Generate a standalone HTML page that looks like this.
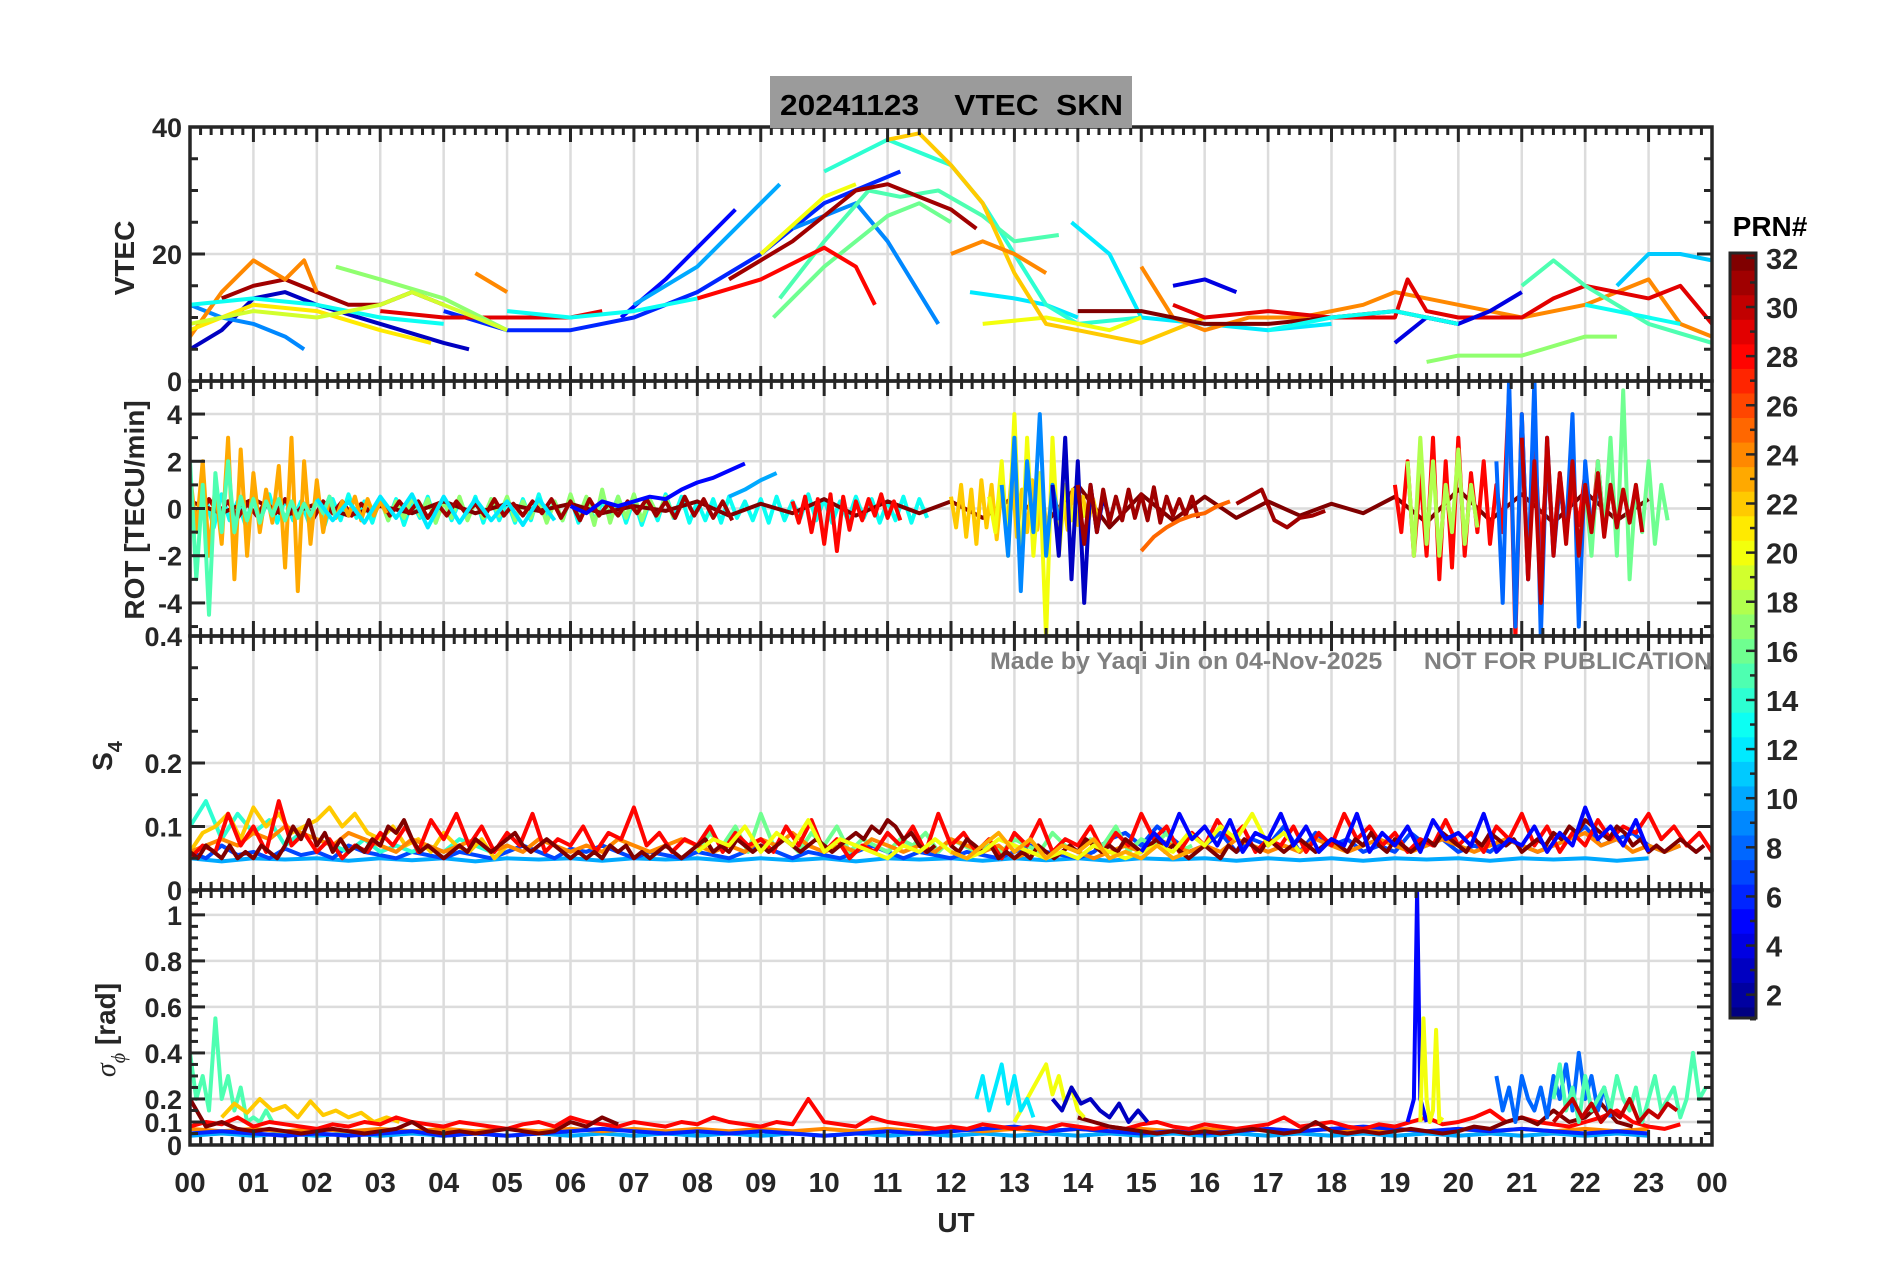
<!DOCTYPE html>
<html><head><meta charset="utf-8"><style>
html,body{margin:0;padding:0;background:#fff;}
svg{display:block;font-family:"Liberation Sans",sans-serif;}
</style></head><body>
<svg id="fig" width="1902" height="1272" viewBox="0 0 1902 1272" xmlns="http://www.w3.org/2000/svg">
<defs>
<clipPath id="c0"><rect x="190" y="127" width="1522" height="254"/></clipPath>
<clipPath id="c1"><rect x="190" y="381" width="1522" height="255"/></clipPath>
<clipPath id="c2"><rect x="190" y="636" width="1522" height="254"/></clipPath>
<clipPath id="c3"><rect x="190" y="890" width="1522" height="255"/></clipPath>
</defs>
<g id="grids"></g>
<g id="data"></g>
<g id="axes"></g>
<rect x="770" y="76" width="362" height="52" fill="#9b9b9b"/>
<text x="780" y="115" font-size="29" font-weight="bold" fill="#000" textLength="343" lengthAdjust="spacingAndGlyphs" xml:space="preserve">20241123    VTEC  SKN</text>
<text x="990" y="669" font-size="24" font-weight="bold" fill="#808080" textLength="722" lengthAdjust="spacingAndGlyphs" xml:space="preserve">Made by Yaqi Jin on 04-Nov-2025      NOT FOR PUBLICATION</text>
<text transform="translate(134,258) rotate(-90)" text-anchor="middle" font-size="28" font-weight="bold" fill="#262626">VTEC</text>
<text transform="translate(144,510) rotate(-90)" text-anchor="middle" font-size="28" font-weight="bold" fill="#262626">ROT [TECU/min]</text>
<text transform="translate(112,756) rotate(-90)" text-anchor="middle" font-size="28" font-weight="bold" fill="#262626">S<tspan font-size="20" dy="10">4</tspan></text>
<text transform="translate(115,1030) rotate(-90)" text-anchor="middle" font-size="28" font-weight="bold" fill="#262626"><tspan font-family="Liberation Serif" font-style="italic" font-weight="normal">σ</tspan><tspan font-family="Liberation Serif" font-style="italic" font-weight="normal" font-size="20" dy="10">ϕ</tspan><tspan dy="-10"> [rad]</tspan></text>
<text x="956" y="1232" text-anchor="middle" font-size="28" font-weight="bold" fill="#262626">UT</text>
<text x="1770" y="236" text-anchor="middle" font-size="28" font-weight="bold" fill="#000">PRN#</text>
<g id="cbar"></g>
</svg>
<script>
// ---------- data ----------
const hourLabels=["00","01","02","03","04","05","06","07","08","09","10","11","12","13","14","15","16","17","18","19","20","21","22","23","00"];
const vtecTicks=[0,20,40];
const rotTicks=[-4,-2,0,2,4];
const s4Ticks=[0,0.1,0.2,0.4];
const sigTicks=[0,0.1,0.2,0.4,0.6,0.8,1];
const prnLabels=[2,4,6,8,10,12,14,16,18,20,22,24,26,28,30,32];
// VTEC tracks: [prn, h,v, h,v, ...]
const vtecTracks=[
[3, 0,5, 0.5,8, 1,13, 1.5,14, 2,12, 3,9, 4,6, 4.4,5],
[5, 6.8,10, 7.5,16, 8.2,23, 8.6,27],
[6, 4,11, 5,8, 6,8, 7,10, 8,14, 9,20, 10,28, 11.2,33],
[10, 7,12, 8,18, 9,28, 9.3,31],
[9, 9.5,24, 10.5,28, 11,22, 11.8,9],
[9, 0,12, 0.5,10, 1,9, 1.5,7, 1.8,5],
[12, 12.3,14, 13,13, 13.5,12, 14,10],
[12, 13.9,25, 14.5,20, 15,10, 16,9, 17,8, 18,9],
[14, 10,33, 10.6,36, 11,38, 11.5,36, 12,34, 12.5,28, 13,20, 13.5,12, 14,9, 15,10],
[16, 9.2,10, 10,18, 11,26, 11.5,28, 12,25],
[15, 9.3,13, 10,22, 10.7,30, 11.2,29, 11.8,30, 12.5,26, 13,22, 13.7,23],
[20, 9,20, 10,29, 10.5,31],
[20, 12.5,9, 13.5,10, 14.5,8, 15,10],
[22, 11,38, 11.5,39, 12,34, 12.5,28, 13,17, 13.5,9, 14,8, 15,6, 16,10],
[28, 8,13, 9,16, 10,21, 10.5,18, 10.8,12],
[31, 0.5,13, 1,15, 1.5,16, 2,14, 2.5,12, 3,12, 3.5,14, 4,12],
[31, 8.5,16, 9.5,22, 10.5,30, 11,31, 12,27, 12.4,24],
[24, 0,7, 0.5,14, 1,19, 1.5,16, 1.8,19, 2,14],
[24, 4.5,17, 5,14],
[24, 12,20, 12.5,22, 13,20, 13.5,17],
[24, 15,18, 15.5,10, 16,8, 16.7,10, 17.5,10, 18.5,12, 19,14, 19.5,13, 20,12, 21,10, 22,12, 23,16, 23.5,9, 24,7],
[21, 0,8, 1,12, 2,11, 3,8, 3.8,6],
[29, 3,11, 4,10, 5,10, 6,10, 6.5,11],
[29, 15.5,12, 16,10, 17,11, 18,10, 19,10, 19.2,16, 19.5,11, 20,10, 21,10, 21.5,13, 22,15, 23,13, 23.5,15, 24,9],
[32, 14,11, 15,11, 16,9, 17,9, 18,10, 19,11, 20,9],
[17, 2.3,18, 3,16, 4,13, 5,8],
[17, 19.5,3, 20,4, 21,4, 22,7, 22.5,7],
[15, 21,15, 21.5,19, 22,15, 23,9, 24,6],
[11, 22.5,15, 23,20, 23.5,20, 24,19],
[4, 15.5,15, 16,16, 16.5,14],
[4, 19,6, 19.5,10, 20,9, 20.5,11, 21,14],
[13, 0,12, 1,13, 2,12, 3,10, 4,9],
[13, 5,11, 6,10, 7,11, 8,13],
[13, 17,8, 18,10, 19,11, 20,9],
[13, 22,12, 23,10, 23.5,9],
[19, 0,9, 1,11, 2,10, 3,12, 3.5,14, 4,12, 5,8]
];
// ROT series: [prn, startHour, stepHour, values...]
const rotSeries=[
[13, 0,0.125, 0.5,-0.6,0.4,-0.8,0.6,-0.5,0.3,-0.7,0.5,-0.4,0.6,-0.6,0.4,-0.5,0.3,-0.6,0.5,-0.7,0.4,-0.5,0.6,-0.4,0.3,-0.6,0.5,-0.5,0.4,-0.7,0.3,-0.4,0.5,-0.6,0.4,-0.5,0.3,-0.4,0.5,-0.6,0.4,-0.5,0.3,-0.6,0.4,-0.5,0.6,-0.4,0.3,-0.5,0.5,-0.6,0.4,-0.5,0.3,-0.4,0.5,-0.6,0.4,-0.7,0.3,-0.5,0.6,-0.4,0.5,-0.6,0.3,-0.5,0.4,-0.6,0.5,-0.4,0.3,-0.5,0.4,-0.6,0.5,-0.5,0.3,-0.4,0.6,-0.5,0.4,-0.6,0.3,-0.5,0.5,-0.4,0.4,-0.6,0.3,-0.5,0.5,-0.6,0.4,-0.4],
[17, 3,0.125, 0.4,-0.5,0.3,-0.4,0.5,-0.3,0.4,-0.6,0.3,-0.4,0.5,-0.5,0.3,-0.4,0.4,-0.3,0.5,-0.5,0.3,-0.4,0.4,-0.6,0.3,-0.5,0.6,-0.4,0.5,-0.7,0.8,-0.6,0.5,-0.4,0.6,-0.5,0.4,-0.3,0.5,-0.4],
[32, 0,0.5, 0.3,-0.2,0.4,-0.3,0.2,-0.3,0.1,-0.2,0.3,-0.2,0.2,-0.1,0.2,-0.2,0.1,-0.1,0.3,-0.3,0.2,-0.2,0.4,-0.3,0.3,-0.2,0.3,-0.4,0.5,-0.6,1,-0.8,0.6,-0.5,0.5,-0.4,0.3,-0.3,0.2,-0.2,0.5,-0.6,0.8,-0.5,0.6,-0.6,0.7,-0.5,0.4],
[31, 0,0.15, 0.2,-0.3,0.4,-0.2,0.3,-0.4,0.2,-0.3,0.3,-0.2,0.4,-0.3,0.2,-0.4,0.3,-0.2,0.3,-0.3,0.2,-0.2,0.4,-0.3,0.3,-0.2,0.3,-0.4,0.2,-0.3,0.3,-0.2,0.2,-0.3,0.4,-0.3,0.2,-0.3,0.3,-0.2,0.4,-0.4,0.3,-0.5,0.4,-0.3,0.2,-0.3,0.3,-0.2,0.4,-0.3,0.3,-0.4,0.5,-0.3,0.4,-0.4,0.3,-0.5],
[23, 0,0.1, 1.5,-1,2,-2,1,-1.5,3,-3,2.5,-2,1.5,-1,0.8,-0.6,1.8,-2.5,3,-3.5,2,-1.5,1.2,-1,0.5,-0.4,0.3,-0.3,0.5,-0.5,0.4,-0.3,0.3,-0.2],
[15, 0,0.1, 2,-3,1,-4.5,1.5,-1,2,-1,0.5,-0.5,0.4,-0.6,0.3,-0.3,0.4,-0.5,0.3,-0.4,0.2,-0.3,0.3,-0.2,0.5,-0.4],
[12, 2,0.25, 0.4,-0.5,0.3,-0.6,0.5,-0.4,0.6,-0.8,0.5,-0.6,0.4,-0.5,0.3,-0.7,0.4,-0.5],
[5, 6,0.25, 0.1,-0.2,0.3,0.1,0.3,0.5,0.4,0.8,1.1,1.3,1.6,1.9],
[10, 8.5,0.25, 0.5,0.8,1.2,1.5],
[28, 9.5,0.1, 0.3,-0.6,0.5,-1,0.4,-1.5,0.6,-1.8,0.5,-0.9,0.3,-0.5,0.4,-0.3,0.6,-0.4,0.3,-0.5],
[22, 12,0.08, 0.5,-0.8,1,-1.2,0.8,-1.5,1.2,-0.8,1,-1.3,0.9,-1,1.5,-1.2,0.8,-1,1.2,-0.9,0.7,-1.1,1,-0.8,0.6,-0.9,0.8,-0.7,0.5,-0.6,0.4,-0.5],
[20, 12.6,0.1, 0.5,-1,2,-2,4,-3,3,-2,1.5,-5.5,3,-2,1,-0.5,0.6,-0.4],
[9, 12.8,0.1, 1,-2,3,-3.5,2,-1,4,-2,1,-0.5],
[3, 13.6,0.1, 1,-2,3,-3,2,-4,1,-1,0.5,-0.4],
[31, 14,0.1, 1,-1.5,1,-1,0.8,-0.6,0.5,-0.5,0.8,-0.4,0.6,-0.5,0.9,-0.6,0.5,-0.3,0.4,-0.3,0.5,-0.4],
[25, 15,0.2, -1.8,-1.2,-0.8,-0.5,-0.3,-0.2,0.1,0.3],
[31, 16.5,0.2, 0.2,0.5,0.8,-0.5,-0.8,-0.4,-0.3,-0.1],
[28, 19,0.1, 1,-1,2,-2,1.5,-2,3,-3,2,-2.5,3,-2,1.5,-1,2,-1.5,1,-1,5,-5.5,4,-3,3,-2,2,-1.5,1.5,-1,0.8,-0.7,1.5,-1.2,2,-1,1,-0.8],
[18, 19.2,0.1, 2,-2,3,-1.5,2,-2,1,-1,2.5,-1.5,1,-0.8],
[8, 20.6,0.1, 2,-4,5.5,-5,4,-3,5.5,-5.5,3,-2,1,-1,4,-5,2,-1,1,-0.5],
[16, 22,0.1, 1,-2,2,-1,3,-2,5,-3,1,-1,2,-1.5,1,-0.5],
[30, 21,0.1, 3,-3,2,-4,3,-2,1.5,-1.5,2,-2,1,-1,1.5,-1.2,1,-0.8,0.8,-0.6,1,-1]
];
// S4 series: [prn, startHour, stepHour, values...]
const s4Series=[
[10, 0,0.5, 0.05,0.045,0.05,0.048,0.05,0.046,0.05,0.047,0.05,0.045,0.05,0.048,0.05,0.046,0.05,0.048,0.05,0.046,0.05,0.047,0.05,0.045,0.05,0.048,0.05,0.046,0.05,0.047,0.05,0.046,0.05,0.048,0.05,0.046,0.05,0.047,0.05,0.046,0.05,0.048,0.05,0.046,0.05,0.048,0.05,0.046,0.05],
[7, 0,0.25, 0.06,0.05,0.07,0.055,0.06,0.05,0.065,0.055,0.06,0.05,0.07,0.06,0.055,0.05,0.06,0.055,0.05,0.06,0.055,0.05,0.06,0.07,0.06,0.05,0.065,0.06,0.07,0.06,0.05,0.06,0.055,0.05,0.06,0.055,0.05,0.06,0.07,0.06,0.05,0.06,0.055,0.05,0.06,0.07,0.06,0.05,0.06,0.055,0.05,0.06,0.055,0.05,0.06,0.07,0.06,0.055,0.05,0.06,0.08,0.09,0.07,0.1,0.08,0.06,0.07,0.09,0.06,0.08,0.07,0.1,0.06,0.09,0.07,0.08,0.06,0.07,0.06,0.09,0.07,0.08,0.06,0.07,0.06,0.08,0.07,0.06,0.07,0.08,0.1,0.07,0.08,0.09,0.07,0.06,0.07],
[14, 0,0.25, 0.1,0.14,0.08,0.12,0.09,0.11,0.07,0.09,0.08,0.07,0.06,0.08,0.06,0.07,0.06,0.07,0.06,0.08,0.07,0.06],
[16, 8,0.2, 0.06,0.09,0.07,0.1,0.06,0.12,0.07,0.08,0.06,0.09,0.07,0.1,0.06,0.08,0.07,0.06,0.08,0.07,0.09,0.06,0.08,0.07,0.06,0.07,0.06,0.08,0.07,0.06,0.09,0.07,0.06,0.08,0.07,0.1,0.06,0.08,0.07,0.09,0.06,0.07],
[22, 0,0.2, 0.06,0.09,0.1,0.12,0.08,0.13,0.1,0.12,0.09,0.1,0.11,0.13,0.1,0.12,0.09,0.08,0.1,0.07,0.08,0.06,0.09,0.07,0.06,0.08,0.05,0.07],
[24, 0,0.25, 0.06,0.07,0.08,0.07,0.09,0.08,0.1,0.09,0.08,0.07,0.09,0.08,0.07,0.06,0.08,0.07,0.06,0.07,0.08,0.06,0.07,0.06,0.08,0.07,0.06,0.07,0.06,0.08,0.07,0.06,0.07,0.08,0.07,0.06,0.07,0.06,0.08,0.07,0.09,0.07,0.06,0.07,0.06,0.08,0.07,0.06,0.07,0.06,0.08,0.07,0.06,0.07,0.05,0.06,0.05,0.07,0.06,0.05,0.06,0.07,0.06,0.08,0.07,0.06,0.07,0.06,0.08,0.07,0.06,0.07,0.06,0.08,0.07,0.06,0.07,0.08,0.07,0.06,0.07,0.08,0.07,0.06,0.07,0.08,0.07,0.06,0.07,0.08,0.09,0.07,0.08,0.06,0.07,0.06,0.07],
[28, 0,0.2, 0.05,0.07,0.06,0.12,0.07,0.1,0.06,0.14,0.07,0.09,0.06,0.08,0.05,0.07,0.06,0.09,0.07,0.1,0.06,0.11,0.08,0.12,0.07,0.1,0.06,0.09,0.07,0.12,0.06,0.08,0.07,0.1,0.06,0.09,0.08,0.13,0.07,0.09,0.06,0.08,0.07,0.1,0.06,0.09,0.07,0.08,0.06,0.1,0.07,0.11,0.06,0.08,0.05,0.07,0.06,0.09,0.07,0.1,0.06,0.12,0.07,0.09,0.06,0.08,0.05,0.09,0.07,0.11,0.06,0.08,0.07,0.1,0.06,0.09,0.07,0.12,0.08,0.1,0.06,0.09,0.07,0.11,0.08,0.1,0.06,0.08,0.07,0.1,0.06,0.09,0.07,0.12,0.08,0.1,0.07,0.09,0.06,0.08,0.07,0.11,0.07,0.09,0.06,0.1,0.08,0.12,0.07,0.1,0.06,0.09,0.07,0.11,0.08,0.1,0.09,0.12,0.08,0.1,0.07,0.09,0.06,0.14],
[32, 0,0.125, 0.06,0.05,0.07,0.06,0.05,0.07,0.05,0.06,0.05,0.07,0.06,0.05,0.07,0.1,0.08,0.11,0.07,0.09,0.06,0.08,0.06,0.07,0.06,0.08,0.07,0.1,0.09,0.11,0.08,0.06,0.07,0.06,0.05,0.06,0.07,0.06,0.08,0.07,0.06,0.07,0.08,0.09,0.07,0.06,0.07,0.08,0.07,0.06,0.05,0.06,0.05,0.06,0.05,0.07,0.06,0.07,0.05,0.06,0.05,0.06,0.07,0.06,0.05,0.06,0.07,0.08,0.06,0.07,0.06,0.08,0.07,0.06,0.07,0.06,0.07,0.08,0.07,0.06,0.07,0.08,0.07,0.06,0.07,0.08,0.09,0.08,0.1,0.09,0.11,0.1,0.08,0.09,0.07,0.06,0.07],
[32, 12,0.125, 0.07,0.06,0.08,0.07,0.06,0.07,0.05,0.06,0.05,0.06,0.05,0.07,0.06,0.05,0.06,0.07,0.06,0.08,0.07,0.06,0.07,0.06,0.08,0.07,0.06,0.07,0.08,0.06,0.07,0.06,0.05,0.06,0.07,0.06,0.05,0.07,0.06,0.08,0.07,0.06,0.08,0.07,0.06,0.07,0.08,0.07,0.06,0.07,0.08,0.07,0.06,0.08,0.07,0.09,0.07,0.06,0.08,0.07,0.06,0.07,0.08,0.07,0.09,0.08,0.07,0.06,0.08,0.07,0.09,0.08,0.07,0.08,0.06,0.07,0.08,0.07,0.09,0.08,0.1,0.09,0.11,0.1,0.09,0.08,0.1,0.09,0.07,0.08,0.06,0.07,0.06,0.07,0.08,0.07,0.06,0.07],
[20, 8,0.25, 0.06,0.08,0.07,0.1,0.06,0.09,0.07,0.11,0.06,0.08,0.07,0.06,0.05,0.07,0.06,0.08,0.06,0.05,0.06,0.08,0.07,0.06,0.05,0.06,0.05,0.07,0.06,0.05,0.06,0.07,0.06,0.09,0.07,0.1,0.08,0.12,0.07,0.09,0.06],
[5, 15,0.2, 0.06,0.09,0.07,0.12,0.08,0.1,0.07,0.11,0.06,0.09,0.08,0.12,0.07,0.1,0.06,0.08,0.07,0.12,0.06,0.09,0.07,0.1,0.06,0.11,0.08,0.09,0.07,0.12,0.06,0.08,0.07,0.1,0.06,0.09,0.07,0.13,0.08,0.1,0.07,0.11,0.06],
[23, 12,0.25, 0.06,0.05,0.07,0.09,0.06,0.08,0.05,0.07,0.06,0.08,0.05,0.06,0.05,0.07,0.05,0.06]
];
// Sigma-phi series: [prn, startHour, stepHour, values...]
const sigSeries=[
[10, 0,0.5, 0.04,0.05,0.04,0.05,0.04,0.05,0.04,0.05,0.04,0.05,0.04,0.05,0.04,0.05,0.04,0.05,0.04,0.05,0.04,0.05,0.04,0.05,0.04,0.05,0.04,0.05,0.04,0.05,0.04,0.05,0.04,0.05,0.04,0.05,0.04,0.05,0.04,0.05,0.04,0.05,0.04,0.05,0.04,0.05,0.04,0.05,0.04],
[24, 0,0.5, 0.07,0.06,0.07,0.06,0.07,0.06,0.07,0.06,0.07,0.06,0.07,0.06,0.07,0.06,0.07,0.06,0.07,0.06,0.07,0.06,0.07,0.06,0.07,0.06,0.07,0.06,0.07,0.06,0.07,0.06,0.07,0.06,0.07,0.06,0.07,0.06,0.07,0.06,0.07,0.06,0.07,0.06,0.07,0.06,0.07,0.06,0.07],
[6, 0,0.5, 0.05,0.06,0.05,0.04,0.05,0.04,0.05,0.06,0.04,0.05,0.04,0.05,0.06,0.07,0.06,0.05,0.06,0.05,0.06,0.05,0.04,0.05,0.06,0.05,0.06,0.07,0.08,0.06,0.07,0.06,0.05,0.06,0.05,0.06,0.07,0.06,0.07,0.08,0.07,0.06,0.07,0.06,0.07,0.06,0.05,0.06,0.05],
[15, 0,0.1, 0.4,0.2,0.3,0.15,0.55,0.2,0.3,0.15,0.25,0.1,0.12,0.1,0.15,0.1],
[22, 0.5,0.2, 0.12,0.18,0.14,0.2,0.15,0.17,0.12,0.19,0.13,0.15,0.12,0.14,0.1,0.12,0.1],
[28, 0,0.25, 0.08,0.1,0.09,0.12,0.08,0.1,0.09,0.08,0.07,0.09,0.08,0.1,0.09,0.12,0.1,0.09,0.08,0.1,0.09,0.08,0.07,0.09,0.1,0.08,0.12,0.1,0.09,0.08,0.1,0.09,0.08,0.1,0.09,0.12,0.1,0.09,0.08,0.1,0.09,0.2,0.1,0.09,0.08,0.12,0.1,0.09,0.08,0.07,0.08,0.07,0.09,0.08,0.07,0.08,0.07,0.09,0.08,0.07,0.08,0.07,0.09,0.1,0.08,0.07,0.09,0.08,0.07,0.08,0.09,0.12,0.08,0.09,0.1,0.08,0.07,0.09,0.08,0.1,0.12,0.09,0.1,0.12,0.15,0.1,0.12,0.1,0.09,0.08,0.1,0.12,0.15,0.1,0.08,0.07,0.09],
[32, 0,0.25, 0.2,0.08,0.1,0.07,0.06,0.07,0.06,0.05,0.06,0.07,0.06,0.05,0.06,0.07,0.1,0.06,0.05,0.06,0.05,0.06,0.07,0.06,0.05,0.06,0.1,0.08,0.12,0.09],
[32, 14,0.25, 0.12,0.1,0.08,0.07,0.06,0.05,0.06,0.05,0.06,0.05,0.06,0.07,0.06,0.05,0.06,0.1,0.06,0.05,0.06,0.05,0.06,0.07,0.06,0.05,0.06,0.08,0.07,0.1,0.12,0.09,0.15,0.1,0.12,0.18,0.1,0.08],
[20, 13,0.1, 0.1,0.15,0.2,0.25,0.3,0.35,0.22,0.3,0.18,0.25,0.15,0.12],
[12, 12.4,0.1, 0.2,0.3,0.15,0.25,0.35,0.18,0.3,0.15,0.2,0.12],
[3, 13.6,0.15, 0.2,0.15,0.25,0.18,0.2,0.15,0.12,0.18,0.1,0.15,0.1],
[5, 19.2,0.05, 0.1,0.15,0.2,1.1,0.2,0.15,0.1],
[20, 19.4,0.05, 0.1,0.55,0.2,0.1,0.15,0.5,0.1,0.12],
[8, 20.6,0.1, 0.3,0.15,0.25,0.1,0.3,0.2,0.15,0.25,0.12,0.3,0.2,0.35,0.15,0.4,0.2,0.3,0.15,0.25,0.12],
[15, 21.5,0.1, 0.2,0.35,0.15,0.25,0.1,0.3,0.15,0.2,0.25,0.15,0.3,0.2,0.15,0.25,0.1,0.2,0.3,0.15,0.2,0.25,0.12,0.2,0.4,0.2,0.25],
[30, 21.5,0.15, 0.1,0.15,0.2,0.12,0.18,0.1,0.15,0.12,0.2,0.1,0.15,0.12,0.18,0.15]
];
// ---------- layout ----------
const X0=190,X1=1712;
const x=h=>X0+(X1-X0)*h/24;
const panels=[
 {top:127,bot:381,min:0,max:40},
 {top:381,bot:636,min:-5.4,max:5.4},
 {top:636,bot:890,min:0,max:0.4},
 {top:890,bot:1145,min:0,max:1.108}
];
const yf=p=>v=>p.bot-(v-p.min)/(p.max-p.min)*(p.bot-p.top);
const NS="http://www.w3.org/2000/svg";
function mk(tag,attrs,parent){const e=document.createElementNS(NS,tag);for(const k in attrs)e.setAttribute(k,attrs[k]);parent.appendChild(e);return e;}
function jet(prn){
 const t=(prn-1)/31;
 const r=Math.min(1,Math.max(0,1.5-Math.abs(4*t-3))),g=Math.min(1,Math.max(0,1.5-Math.abs(4*t-2))),b=Math.min(1,Math.max(0,1.5-Math.abs(4*t-1)));
 return `rgb(${Math.round(r*255)},${Math.round(g*255)},${Math.round(b*255)})`;
}
const grids=document.getElementById('grids'),data=document.getElementById('data'),axes=document.getElementById('axes');
const panelNames=['vtec','rot','s4','sigma-phi'];
const tickSets=[vtecTicks,rotTicks,s4Ticks,sigTicks];
const minorSteps=[5,1,0.05,0.05];
panels.forEach((p,i)=>{
 const y=yf(p);
 for(let h=1;h<24;h++){const l=mk('line',{x1:x(h),x2:x(h),y1:p.top,y2:p.bot,stroke:'#dcdcdc','stroke-width':2.5},grids);
  }
 tickSets[i].forEach(v=>{if(v>p.min&&v<p.max){const l=mk('line',{x1:X0,x2:X1,y1:y(v),y2:y(v),stroke:'#dcdcdc','stroke-width':2.5},grids);
  }});
});
function drawSeries(pi,prn,pts,w){
 const y=yf(panels[pi]);
 const d=pts.map((q,k)=>(k?'L':'M')+x(q[0]).toFixed(1)+','+y(q[1]).toFixed(1)).join('');
 const e=mk('path',{d:d,fill:'none',stroke:jet(prn),'stroke-width':w,'stroke-linejoin':'round','clip-path':`url(#c${pi})`},data);
 
 
}
vtecTracks.forEach(t=>{const pts=[];for(let k=1;k<t.length;k+=2)pts.push([t[k],t[k+1]]);drawSeries(0,t[0],pts,4);});
function stepSeries(pi,arr,w){arr.forEach(s=>{const pts=[];for(let k=3;k<s.length;k++)pts.push([s[1]+(k-3)*s[2],s[k]]);drawSeries(pi,s[0],pts,w);});}
stepSeries(1,rotSeries,4);
stepSeries(2,s4Series,4);
stepSeries(3,sigSeries,4);
// axes
panels.forEach((p,i)=>{
 const y=yf(p);
 const f=mk('rect',{x:X0,y:p.top,width:X1-X0,height:p.bot-p.top,fill:'none',stroke:'#262626','stroke-width':3.5},axes);
 
 for(let m=0;m<=144;m++){const h=m/6,L=(m%6===0)?15:8;
  mk('line',{x1:x(h),x2:x(h),y1:p.top,y2:p.top+L,stroke:'#262626','stroke-width':3},axes);
  mk('line',{x1:x(h),x2:x(h),y1:p.bot,y2:p.bot-L,stroke:'#262626','stroke-width':3},axes);}
 const st=minorSteps[i];
 for(let v=Math.ceil(p.min/st)*st;v<=p.max+1e-9;v+=st){
  const major=tickSets[i].some(t=>Math.abs(t-v)<1e-6);const L=major?15:8;
  mk('line',{x1:X0,x2:X0+L,y1:y(v),y2:y(v),stroke:'#262626','stroke-width':3},axes);
  mk('line',{x1:X1,x2:X1-L,y1:y(v),y2:y(v),stroke:'#262626','stroke-width':3},axes);}
 tickSets[i].forEach(v=>{const t=mk('text',{x:X0-8,y:y(v)+10,'text-anchor':'end','font-size':27,'font-weight':'bold',fill:'#262626'},axes);
  t.textContent=String(v);});
});
hourLabels.forEach((s,h)=>{const t=mk('text',{x:x(h),y:1192,'text-anchor':'middle','font-size':28,'font-weight':'bold',fill:'#262626'},axes);
 t.textContent=s;});
// colorbar
const cb=document.getElementById('cbar');const CT=253,CB=1018,CX=1730,CW=26;
const cy=v=>CB-(v-1.05)/(32.2-1.05)*(CB-CT);
for(let p=1;p<=32;p++){const y1=Math.max(CT,cy(p+0.5)),y2=Math.min(CB,cy(p-0.5));
 const r=mk('rect',{x:CX,y:y1,width:CW,height:y2-y1+0.5,fill:jet(p)},cb);
 }
const frame=mk('rect',{x:CX,y:CT,width:CW,height:CB-CT,fill:'none',stroke:'#262626','stroke-width':3},cb);

for(let p=1;p<=32;p++){mk('line',{x1:CX+CW,x2:CX+CW-(p%2===0?10:6),y1:cy(p),y2:cy(p),stroke:'#262626','stroke-width':2.5},cb);}
prnLabels.forEach(v=>{const t=mk('text',{x:CX+CW+10,y:cy(v)+11,'font-size':29,'font-weight':'bold',fill:'#262626'},cb);
 t.textContent=String(v);});
</script>
</body></html>
